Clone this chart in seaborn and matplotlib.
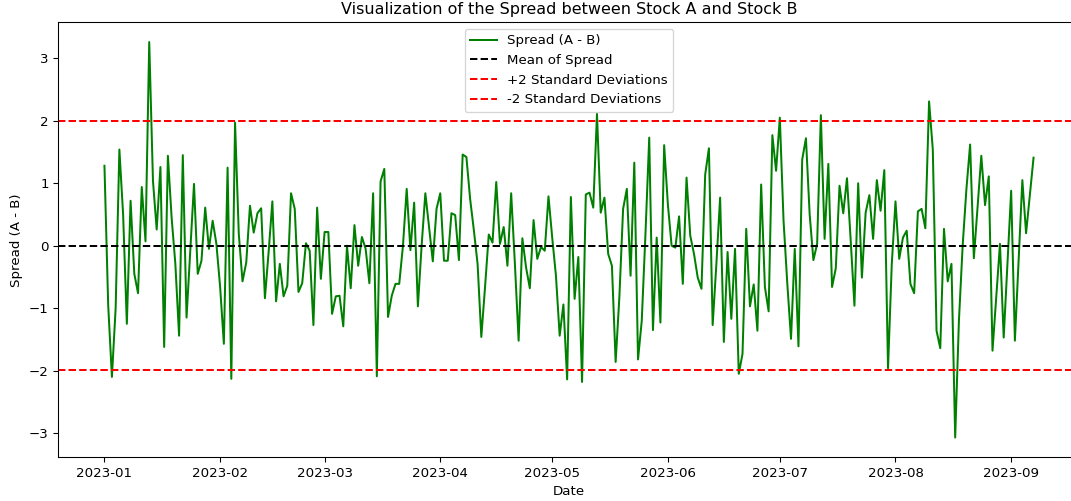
import numpy as np
import pandas as pd
import matplotlib
matplotlib.use("Agg")
import matplotlib.pyplot as plt
import seaborn as sns

start_date = "2023-01-01"
spread_values = [
    1.28, -0.95, -2.10, -1.00, 1.54, 0.50, -1.25, 0.72, -0.45, -0.76,
    0.94, 0.07, 3.26, 1.04, 0.26, 1.26, -1.62, 1.44, 0.45, -0.29,
    -1.44, 1.45, -1.15, -0.08, 0.99, -0.45, -0.24, 0.61, -0.05, 0.40,
    0.03, -0.66, -1.57, 1.25, -2.13, 1.97, 0.19, -0.57, -0.27, 0.64,
    0.21, 0.52, 0.60, -0.84, -0.10, 0.71, -0.89, -0.29, -0.81, -0.64,
    0.84, 0.59, -0.74, -0.60, 0.04, -0.08, -1.27, 0.61, -0.53, 0.22,
    0.22, -1.09, -0.81, -0.80, -1.29, 0.00, -0.68, 0.33, -0.32, 0.14,
    -0.05, -0.60, 0.84, -2.09, 1.03, 1.23, -1.14, -0.80, -0.61, -0.61,
    0.00, 0.91, -0.07, 0.69, -0.97, 0.00, 0.84, 0.29, -0.25, 0.59,
    0.84, -0.24, -0.24, 0.52, 0.49, -0.23, 1.46, 1.42, 0.75, 0.25,
    -0.29, -1.46, -0.66, 0.18, 0.05, 1.02, 0.03, 0.30, -0.32, 0.84,
    -0.29, -1.52, 0.12, -0.35, -0.68, 0.41, -0.21, -0.02, -0.08, 0.79,
    0.13, -0.48, -1.44, -0.94, -2.14, 0.78, -0.85, -0.18, -2.18, 0.82,
    0.85, 0.61, 2.11, 0.53, 0.77, -0.13, -0.32, -1.86, -0.82, 0.59,
    0.91, -0.48, 1.33, -1.82, -1.20, 0.20, 1.73, -1.35, 0.13, -1.23,
    1.61, 0.66, 0.00, -0.03, 0.47, -0.61, 1.09, 0.16, -0.13, -0.51,
    -0.69, 1.14, 1.56, -1.27, -0.29, 0.77, -1.54, -0.10, -1.17, -0.05,
    -2.05, -1.73, 0.27, -0.97, -0.62, -1.36, 0.98, -0.66, -1.05, 1.77,
    1.20, 2.05, 0.40, -0.60, -1.49, -0.05, -1.61, 1.38, 1.72, 0.50,
    -0.23, 0.03, 2.09, 0.11, 1.31, -0.66, -0.36, 0.96, 0.52, 1.08,
    0.08, -0.96, 1.00, -0.51, 0.53, 0.81, 0.11, 1.05, 0.56, 1.21,
    -1.96, -0.30, 0.71, -0.21, 0.13, 0.24, -0.61, -0.76, 0.55, 0.59,
    0.28, 2.31, 1.54, -1.36, -1.64, 0.27, -0.57, -0.29, -3.07, -1.20,
    0.00, 0.90, 1.62, -0.20, 0.61, 1.44, 0.65, 1.11, -1.68, -0.82,
    0.03, -1.47, -0.29, 0.88, -1.52, -0.24, 1.05, 0.20, 0.80, 1.41,
]

dates = pd.date_range(start_date, periods=len(spread_values), freq="D")
df = pd.DataFrame({"Date": dates, "Spread": spread_values})

mean_spread = float(np.mean(spread_values))
std_spread = float(np.std(spread_values, ddof=1))

DPI = 96
fig, ax = plt.subplots(figsize=(1071 / DPI, 501 / DPI), dpi=DPI)
fig.subplots_adjust(left=58 / 1071, right=1080 / 1071, bottom=1 - 457.3 / 501, top=1 - 22.3 / 501)

sns.lineplot(data=df, x="Date", y="Spread", color="green", label="Spread (A - B)", ax=ax)
ax.axhline(mean_spread, color="black", linestyle="--", label="Mean of Spread")
ax.axhline(mean_spread + 2 * std_spread, color="red", linestyle="--", label="+2 Standard Deviations")
ax.axhline(mean_spread - 2 * std_spread, color="red", linestyle="--", label="-2 Standard Deviations")

ax.set_title("Visualization of the Spread between Stock A and Stock B")
ax.set_xlabel("Date")
ax.set_ylabel("Spread (A - B)")
ax.legend(loc="upper center")

fig.savefig("out.png", dpi=DPI)
